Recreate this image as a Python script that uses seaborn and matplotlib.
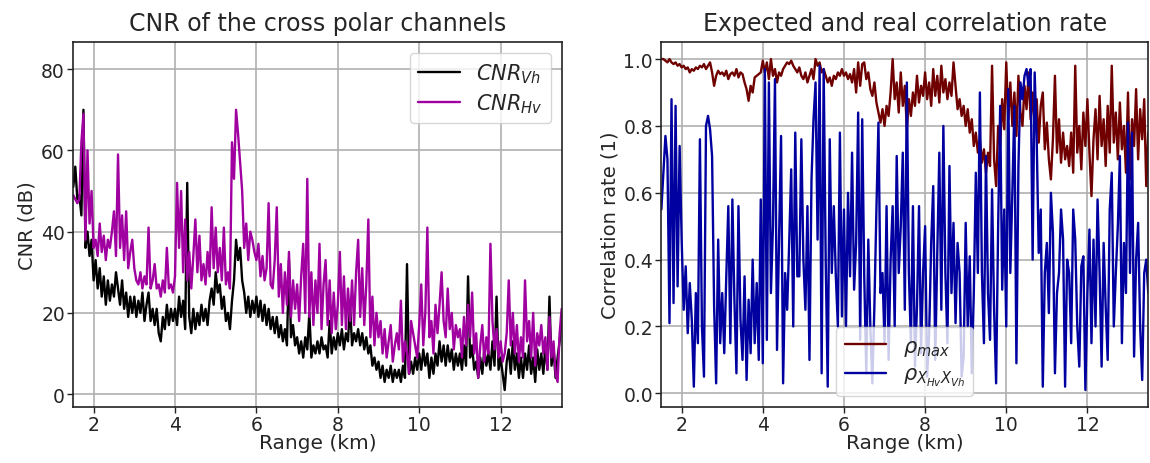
import numpy as np
import pandas as pd
import matplotlib
matplotlib.use("Agg")
import matplotlib.pyplot as plt
import seaborn as sns

# ---------------- data ----------------
range_start_km = 1.5
range_step_km = 0.05

cnr_vh = [
    51, 56, 48, 49, 44, 70, 36, 40, 34, 38,
    28, 33, 26, 31, 24, 29, 22, 28, 23, 27,
    24, 30, 26, 22, 28, 21, 25, 19, 24, 20,
    24, 19, 23, 20, 25, 18, 22, 25, 18, 21,
    17, 21, 15, 13, 19, 16, 22, 17, 21, 18,
    21, 17, 24, 19, 23, 16, 52, 19, 15, 21,
    16, 20, 17, 22, 18, 21, 17, 23, 26, 22,
    30, 25, 27, 21, 24, 18, 20, 16, 23, 28,
    38, 33, 36, 28, 25, 20, 24, 19, 23, 20,
    24, 19, 23, 18, 22, 17, 21, 16, 19, 15,
    19, 14, 17, 13, 16, 12, 33, 14, 17, 12,
    14, 10, 13, 9, 14, 11, 20, 9, 12, 10,
    13, 10, 14, 11, 12, 9, 18, 10, 14, 11,
    15, 12, 16, 11, 15, 13, 22, 12, 15, 13,
    16, 12, 15, 11, 14, 10, 12, 7, 9, 6,
    8, 4, 7, 3, 6, 4, 7, 3, 6, 4,
    6, 3, 7, 4, 32, 5, 8, 5, 9, 6,
    10, 6, 11, 7, 10, 4, 9, 5, 10, 7,
    13, 8, 12, 7, 12, 8, 11, 6, 10, 7,
    10, 6, 12, 7, 29, 9, 12, 6, 8, 4,
    9, 5, 11, 7, 10, 6, 13, 7, 24, 6,
    9, 5, 1, 8, 11, 5, 13, 6, 10, 4,
    9, 4, 10, 6, 12, 5, 9, 3, 11, 6,
    10, 5, 12, 6, 24, 7, 11, 4, 9, 13,
    18,
]

cnr_hv = [
    49, 48, 47, 48, 62, 69, 38, 60, 42, 50,
    36, 38, 34, 42, 35, 39, 33, 38, 36, 40,
    45, 34, 59, 36, 44, 33, 45, 31, 35, 38,
    31, 28, 27, 30, 26, 29, 27, 41, 26, 28,
    32, 26, 27, 24, 28, 25, 36, 26, 27, 25,
    29, 52, 36, 50, 30, 43, 28, 35, 26, 34,
    43, 30, 39, 28, 32, 27, 35, 29, 46, 31,
    41, 30, 36, 28, 41, 27, 30, 26, 62, 53,
    70, 64, 57, 50, 36, 42, 33, 40, 38, 35,
    33, 37, 29, 34, 28, 31, 47, 27, 26, 33,
    46, 24, 32, 20, 30, 22, 35, 19, 28, 21,
    27, 18, 29, 37, 20, 53, 19, 30, 17, 28,
    20, 37, 16, 27, 33, 17, 28, 15, 25, 16,
    22, 35, 17, 29, 16, 26, 18, 28, 17, 30,
    38, 19, 31, 17, 27, 43, 14, 24, 12, 20,
    14, 18, 10, 16, 9, 13, 17, 8, 12, 15,
    11, 23, 8, 13, 10, 5, 18, 15, 12, 9,
    17, 27, 12, 20, 41, 14, 18, 10, 22, 15,
    22, 30, 18, 14, 26, 16, 20, 11, 17, 14,
    16, 9, 19, 12, 22, 14, 25, 10, 15, 4,
    12, 17, 8, 14, 10, 37, 18, 11, 16, 9,
    13, 8, 10, 15, 28, 12, 20, 10, 17, 8,
    14, 9, 28, 13, 18, 9, 20, 7, 15, 12,
    17, 10, 14, 6, 19, 9, 13, 5, 3, 15,
    21,
]

rho_max = [
    1.00, 1.00, 0.995, 0.99, 1.00, 0.99, 0.985, 0.99, 0.98, 0.985,
    0.975, 0.98, 0.97, 0.975, 0.96, 0.97, 0.965, 0.975, 0.97, 0.98,
    0.975, 0.985, 0.97, 0.98, 0.99, 0.96, 0.92, 0.95, 0.965, 0.955,
    0.96, 0.95, 0.965, 0.94, 0.955, 0.96, 0.95, 0.97, 0.945, 0.96,
    0.955, 0.93, 0.91, 0.875, 0.92, 0.90, 0.945, 0.95, 0.955, 0.96,
    0.995, 0.96, 0.99, 0.94, 1.00, 0.95, 0.97, 0.93, 0.96, 0.95,
    0.97, 0.98, 0.99, 0.985, 0.995, 0.98, 0.97, 0.96, 0.975, 0.95,
    0.94, 0.96, 0.93, 0.95, 0.97, 0.94, 1.00, 0.98, 0.99, 0.96,
    0.97, 0.95, 0.93, 0.945, 0.92, 0.95, 0.94, 0.96, 0.95, 0.97,
    0.95, 0.96, 0.94, 0.955, 0.93, 0.97, 0.90, 0.99, 0.92, 0.985,
    0.99, 0.94, 0.96, 0.91, 0.89, 0.93, 0.87, 0.84, 0.81, 0.85,
    0.80, 0.86, 0.83, 0.90, 1.00, 0.88, 0.93, 0.84, 0.96, 0.86,
    0.92, 0.79, 0.88, 0.83, 0.90, 0.86, 0.95, 0.87, 0.92, 0.89,
    0.96, 0.88, 0.93, 0.86, 0.97, 0.89, 0.95, 0.87, 0.98, 0.90,
    0.94, 0.88, 0.93, 0.89, 0.99, 0.92, 0.85, 0.88, 0.83, 0.86,
    0.80, 0.85, 0.78, 0.82, 0.74, 0.78, 0.72, 0.76, 0.69, 0.73,
    0.66, 0.72, 0.68, 0.98, 0.70, 0.62, 0.80, 0.74, 0.88, 0.79,
    0.99, 0.82, 0.93, 0.80, 0.90, 0.77, 0.95, 0.84, 0.80, 0.92,
    0.85, 0.96, 0.82, 0.90, 0.79, 0.88, 0.75, 0.86, 0.90, 0.73,
    0.81, 0.70, 0.64, 0.76, 0.95, 0.72, 0.82, 0.69, 0.78, 0.70,
    0.74, 0.68, 0.78, 0.66, 0.98, 0.72, 0.80, 0.67, 0.84, 0.74,
    0.88, 0.72, 0.59, 0.76, 0.85, 0.70, 0.89, 0.74, 0.82, 0.68,
    0.86, 0.72, 0.98, 0.75, 0.84, 0.70, 0.87, 0.73, 0.80, 0.66,
    0.90, 0.64, 0.82, 0.74, 0.91, 0.70, 0.85, 0.76, 0.88, 0.62,
    0.78,
]

rho_x = [
    0.55, 0.66, 0.77, 0.70, 0.21, 0.88, 0.27, 0.86, 0.32, 0.74,
    0.46, 0.25, 0.38, 0.18, 0.33, 0.22, 0.02, 0.30, 0.15, 0.76,
    0.20, 0.05, 0.80, 0.83, 0.79, 0.71, 0.26, 0.03, 0.46, 0.15,
    0.30, 0.12, 0.35, 0.56, 0.15, 0.58, 0.28, 0.06, 0.56, 0.22,
    0.10, 0.35, 0.04, 0.28, 0.12, 0.40, 0.15, 0.33, 0.10, 0.58,
    0.09, 0.97, 0.16, 0.93, 0.30, 0.50, 0.94, 0.13, 0.46, 0.77,
    0.03, 0.36, 0.25, 0.45, 0.67, 0.20, 0.78, 0.35, 0.35, 0.76,
    0.40, 0.25, 0.56, 0.10, 0.64, 0.82, 0.93, 0.46, 0.98, 0.06,
    0.97, 0.40, 0.02, 0.76, 0.36, 0.56, 0.35, 0.20, 0.78, 0.23,
    0.55, 0.20, 0.60, 0.35, 0.72, 0.31, 0.45, 0.84, 0.16, 0.82,
    0.35, 0.06, 0.46, 0.20, 0.03, 0.26, 0.55, 0.81, 0.30, 0.36,
    0.15, 0.56, 0.10, 0.40, 0.56, 0.20, 0.71, 0.36, 0.50, 0.72,
    0.25, 0.93, 0.36, 0.15, 0.56, 0.08, 0.26, 0.56, 0.12, 0.36,
    0.50, 0.05, 0.18, 0.45, 0.62, 0.10, 0.42, 0.72, 0.25, 0.80,
    0.36, 0.15, 0.68, 0.30, 0.51, 0.21, 0.45, 0.36, 0.05, 0.11,
    0.51, 0.20, 0.41, 0.06, 0.30, 0.66, 0.36, 0.90, 0.36, 0.15,
    0.71, 0.30, 0.16, 0.61, 0.25, 0.03, 0.50, 0.86, 0.31, 0.55,
    0.20, 0.91, 0.36, 0.60, 0.86, 0.09, 0.68, 0.93, 0.88, 0.95,
    0.97, 0.92, 0.97, 0.40, 0.96, 0.76, 0.42, 0.55, 0.02, 0.36,
    0.45, 0.24, 0.60, 0.48, 0.06, 0.30, 0.36, 0.55, 0.46, 0.02,
    0.40, 0.36, 0.15, 0.55, 0.46, 0.20, 0.08, 0.38, 0.41, 0.01,
    0.30, 0.49, 0.15, 0.46, 0.20, 0.58, 0.36, 0.08, 0.45, 0.26,
    0.10, 0.55, 0.66, 0.20, 0.36, 0.50, 0.71, 0.15, 0.45, 0.30,
    0.81, 0.36, 0.78, 0.11, 0.40, 0.51, 0.20, 0.04, 0.36, 0.40,
    0.30,
]

range_km = range_start_km + range_step_km * np.arange(len(cnr_vh))

df_cnr = pd.DataFrame({"range": range_km, "vh": cnr_vh, "hv": cnr_hv})
df_rho = pd.DataFrame({"range": range_km, "rmax": rho_max, "rx": rho_x})

# ---------------- style ----------------
sns.set_theme(style="white")
plt.rcParams["font.family"] = ["DejaVu Sans"]
plt.rcParams["axes.edgecolor"] = "#222222"
plt.rcParams["axes.linewidth"] = 1.2

fig = plt.figure(figsize=(11.5, 4.64), dpi=100)
ax1 = fig.add_axes([0.0637, 0.1213, 0.4247, 0.7853])
ax2 = fig.add_axes([0.5751, 0.1213, 0.4234, 0.7853])

lw = 1.7
sns.lineplot(data=df_cnr, x="range", y="vh", ax=ax1, color="black", lw=lw,
             label=r"$CNR_{Vh}$", sort=False, estimator=None)
sns.lineplot(data=df_cnr, x="range", y="hv", ax=ax1, color="#a000a0", lw=lw,
             label=r"$CNR_{Hv}$", sort=False, estimator=None)

sns.lineplot(data=df_rho, x="range", y="rmax", ax=ax2, color="#700000", lw=lw,
             label=r"$\rho_{max}$", sort=False, estimator=None)
sns.lineplot(data=df_rho, x="range", y="rx", ax=ax2, color="#0000a0", lw=lw,
             label=r"$\rho_{X_{Hv}X_{Vh}}$", sort=False, estimator=None)

for ax in (ax1, ax2):
    ax.set_xlim(1.5, 13.5)
    ax.set_xticks([2, 4, 6, 8, 10, 12])
    ax.grid(True, color="#b0b0b0", lw=1.2)
    ax.tick_params(axis="both", labelsize=13.5, length=4, width=1, direction="out",
                   left=True, bottom=True, color="#222222", pad=2)
    ax.set_xlabel("Range (km)", fontsize=14.5, labelpad=-1)

ax1.set_ylim(-3.1, 86.6)
ax1.set_yticks([0, 20, 40, 60, 80])
ax1.set_ylabel("CNR (dB)", fontsize=14, labelpad=3)
ax1.set_title("CNR of the cross polar channels", fontsize=17, pad=9)
ax1.legend(loc="upper right", fontsize=15, framealpha=0.8, borderpad=0.4,
           handlelength=2.0, labelspacing=0.3)

ax2.set_ylim(-0.04, 1.05)
ax2.set_yticks([0.0, 0.2, 0.4, 0.6, 0.8, 1.0])
ax2.set_yticklabels(["0.0", "0.2", "0.4", "0.6", "0.8", "1.0"])
ax2.set_ylabel("Correlation rate (1)", fontsize=14, labelpad=3)
ax2.set_title("Expected and real correlation rate", fontsize=17, pad=9)
ax2.legend(loc="lower center", fontsize=15, framealpha=0.8, borderpad=0.4,
           handlelength=2.0, labelspacing=0.3)

fig.savefig("out.png", dpi=100)
